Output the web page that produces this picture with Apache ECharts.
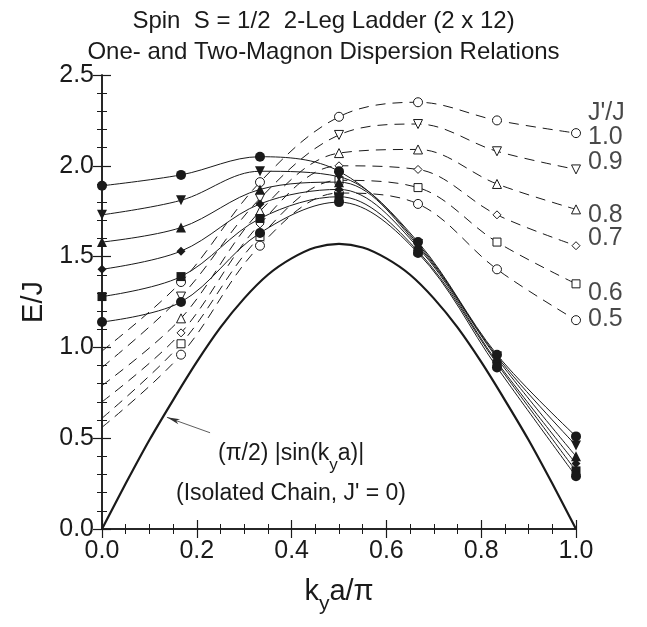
<!DOCTYPE html>
<html><head><meta charset="utf-8">
<script src="https://cdn.jsdelivr.net/npm/echarts@6/dist/echarts.min.js"></script>
<style>html,body{margin:0;padding:0;background:#fff}#c{width:647px;height:627px}</style>
</head><body><div id="c"></div>
<script>
// k_y a / pi grid of the 2 x 12 ladder
const kValues = [0, 0.1667, 0.3333, 0.5, 0.6667, 0.8333, 1.0];
const ratioLabels = ['1.0', '0.9', '0.8', '0.7', '0.6', '0.5'];

// One-magnon (solid, filled symbols)
const oneMagnon10 = [1.89, 1.95, 2.05, 1.97, 1.58, 0.96, 0.51];
const oneMagnon09 = [1.73, 1.81, 1.97, 1.94, 1.57, 0.95, 0.46];
const oneMagnon08 = [1.58, 1.66, 1.87, 1.91, 1.56, 0.94, 0.40];
const oneMagnon07 = [1.43, 1.53, 1.79, 1.87, 1.55, 0.92, 0.36];
const oneMagnon06 = [1.28, 1.39, 1.71, 1.83, 1.53, 0.91, 0.32];
const oneMagnon05 = [1.14, 1.25, 1.63, 1.80, 1.52, 0.89, 0.29];

// Two-magnon (dashed, open symbols); k = 0 point has no symbol
const twoMagnon10 = [0.98, 1.36, 1.91, 2.27, 2.35, 2.25, 2.18];
const twoMagnon09 = [0.89, 1.28, 1.82, 2.17, 2.23, 2.08, 1.98];
const twoMagnon08 = [0.79, 1.16, 1.75, 2.07, 2.09, 1.90, 1.76];
const twoMagnon07 = [0.70, 1.08, 1.68, 2.00, 1.98, 1.73, 1.56];
const twoMagnon06 = [0.61, 1.02, 1.61, 1.92, 1.88, 1.58, 1.35];
const twoMagnon05 = [0.56, 0.96, 1.56, 1.85, 1.79, 1.43, 1.15];

// Isolated chain (pi/2)|sin(k_y a)|
const chainK = [0, 0.05, 0.1, 0.15, 0.2, 0.25, 0.3, 0.35, 0.4, 0.45, 0.5, 0.55, 0.6, 0.65, 0.7, 0.75, 0.8, 0.85, 0.9, 0.95, 1.0];
const chainE = [0, 0.25, 0.49, 0.71, 0.92, 1.11, 1.27, 1.40, 1.49, 1.55, 1.57, 1.55, 1.49, 1.40, 1.27, 1.11, 0.92, 0.71, 0.49, 0.25, 0];

// Right-hand J'/J labels
const rightLabelText = ["J'/J", '1.0', '0.9', '0.8', '0.7', '0.6', '0.5'];
const rightLabelE = [2.29, 2.16, 2.02, 1.73, 1.60, 1.30, 1.155];

// Annotation arrow (data units): from text to curve
const arrowFrom = [0.228, 0.53];
const arrowTo = [0.137, 0.615];

const oneSets = [oneMagnon10, oneMagnon09, oneMagnon08, oneMagnon07, oneMagnon06, oneMagnon05];
const twoSets = [twoMagnon10, twoMagnon09, twoMagnon08, twoMagnon07, twoMagnon06, twoMagnon05];
const symbols = ['circle', 'triangle', 'triangle', 'diamond', 'rect', 'circle'];
const rotations = [0, 180, 0, 0, 0, 0];
const sizes = [10, 10, 10, 9, 9, 10];

const FONT = '"Liberation Sans", Arial, Helvetica, sans-serif';
const INK = '#1a1a1a';

const series = [];
twoSets.forEach((vals, i) => {
  series.push({
    type: 'line', name: 'two ' + ratioLabels[i], smooth: 0.35, z: 3,
    symbol: symbols[i], symbolSize: sizes[i] - 1, symbolRotate: rotations[i],
    lineStyle: { color: INK, width: 1, type: [10, 7] },
    itemStyle: { color: '#fff', borderColor: INK, borderWidth: 1 },
    data: kValues.map((k, j) => j === 0 ? { value: [k, vals[j]], symbol: 'none' } : [k, vals[j]])
  });
});
oneSets.forEach((vals, i) => {
  series.push({
    type: 'line', name: 'one ' + ratioLabels[i], smooth: 0.35, z: 5,
    symbol: symbols[i], symbolSize: sizes[i], symbolRotate: rotations[i],
    lineStyle: { color: INK, width: 1 },
    itemStyle: { color: INK, borderColor: INK, borderWidth: 0 },
    data: kValues.map((k, j) => [k, vals[j]])
  });
});
series.push({
  type: 'line', name: 'chain', smooth: 0.3, symbol: 'none', z: 4,
  lineStyle: { color: INK, width: 2.2 },
  data: chainK.map((k, j) => [k, chainE[j]])
});
series.push({
  type: 'scatter', name: 'labels', symbolSize: 0, silent: true, z: 6,
  label: {
    show: true, position: 'right', distance: 12,
    formatter: p => rightLabelText[p.dataIndex],
    fontFamily: FONT, fontSize: 25, color: INK
  },
  data: rightLabelE.map(e => [1.0, e]),
  markLine: {
    silent: true, z: 10, symbol: ['none', 'arrow'], symbolSize: [4, 13],
    lineStyle: { color: '#333', width: 0.8, type: 'solid' },
    itemStyle: { color: INK },
    label: { show: false },
    data: [[{ coord: arrowFrom }, { coord: arrowTo }]]
  }
});

const tickLabel = { fontFamily: FONT, fontSize: 25, color: INK };
const axisLine = { show: true, lineStyle: { color: INK, width: 1.5 } };

const chart = echarts.init(document.getElementById('c'), null, { renderer: 'canvas' });
chart.setOption({
  animation: false,
  backgroundColor: '#fff',
  title: {
    text: 'Spin  S = 1/2  2-Leg Ladder (2 x 12)\nOne- and Two-Magnon Dispersion Relations',
    left: 'center', top: 1,
    textStyle: { fontFamily: FONT, fontSize: 24, fontWeight: 'normal', color: INK, lineHeight: 31 }
  },
  grid: { left: 102, right: 71, top: 75, bottom: 98 },
  xAxis: [{
    type: 'value', min: 0, max: 1, interval: 0.2, position: 'bottom',
    axisLine, splitLine: { show: false },
    axisTick: { inside: true, length: 9, lineStyle: { color: INK, width: 1.2 } },
    minorTick: { show: true, splitNumber: 4, length: 5, lineStyle: { color: INK, width: 1 } },
    axisLabel: Object.assign({ margin: 10, formatter: v => v.toFixed(1) }, tickLabel),
    name: '{a|k}{s|y}{a|a/π}', nameLocation: 'middle', nameGap: 48,
    nameTextStyle: {
      rich: {
        a: { fontFamily: FONT, fontSize: 29, color: INK, lineHeight: 30, verticalAlign: 'top' },
        s: { fontFamily: FONT, fontSize: 21, color: INK, lineHeight: 20, verticalAlign: 'top', padding: [17, 0, 0, 0] }
      }
    }
  }, {
    type: 'value', min: 0, max: 1, interval: 0.2, position: 'top',
    axisLine, splitLine: { show: false },
    axisTick: { inside: true, length: 9, lineStyle: { color: INK, width: 1.2 } },
    minorTick: { show: true, splitNumber: 4, length: 5, lineStyle: { color: INK, width: 1 } },
    axisLabel: { show: false }
  }],
  yAxis: [{
    type: 'value', min: 0, max: 2.5, interval: 0.5, position: 'left',
    axisLine, splitLine: { show: false },
    axisTick: { inside: true, length: 9, lineStyle: { color: INK, width: 1.2 } },
    minorTick: { show: true, splitNumber: 5, length: 5, lineStyle: { color: INK, width: 1 } },
    axisLabel: Object.assign({ margin: 8, formatter: v => v.toFixed(1) }, tickLabel),
    name: 'E/J', nameLocation: 'middle', nameGap: 54, nameRotate: 90,
    nameTextStyle: { fontFamily: FONT, fontSize: 29, color: INK }
  }, {
    type: 'value', min: 0, max: 2.5, interval: 0.5, position: 'right',
    axisLine, splitLine: { show: false },
    axisTick: { inside: true, length: 9, lineStyle: { color: INK, width: 1.2 } },
    minorTick: { show: true, splitNumber: 5, length: 5, lineStyle: { color: INK, width: 1 } },
    axisLabel: { show: false }
  }],
  graphic: [{
    type: 'text', left: 218, top: 442, silent: true,
    style: {
      text: '{a|(π/2) |sin(k}{s|y}{a|a)|}',
      rich: {
        a: { fontFamily: FONT, fontSize: 23, fill: INK, lineHeight: 27, verticalAlign: 'top' },
        s: { fontFamily: FONT, fontSize: 17, fill: INK, lineHeight: 16, verticalAlign: 'top', padding: [15, 0, 0, 0] }
      }
    }
  }, {
    type: 'text', left: 176, top: 482, silent: true,
    style: { text: "(Isolated Chain, J' = 0)", fontFamily: FONT, fontSize: 23, fill: INK }
  }],
  series
});
</script>
</body></html>
